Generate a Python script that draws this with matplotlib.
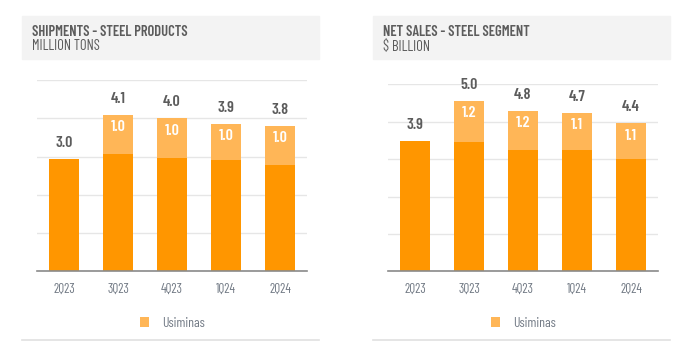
import numpy as np
import matplotlib
matplotlib.use("Agg")
import matplotlib.pyplot as plt
from matplotlib.patches import Rectangle
from matplotlib.lines import Line2D

FONT = ["Barlow Condensed", "DejaVu Sans"]
plt.rcParams["font.family"] = FONT

# data
quarters = ["2Q23", "3Q23", "4Q23", "1Q24", "2Q24"]

ship_base = [2.94, 3.07, 2.97, 2.91, 2.78]
ship_usim = [0.0, 1.02, 1.03, 0.95, 1.02]
ship_total_lbl = ["3.0", "4.1", "4.0", "3.9", "3.8"]
ship_usim_lbl = ["", "1.0", "1.0", "1.0", "1.0"]

sales_base = [3.83, 3.81, 3.57, 3.57, 3.30]
sales_usim = [0.0, 1.21, 1.15, 1.09, 1.06]
sales_total_lbl = ["3.9", "5.0", "4.8", "4.7", "4.4"]
sales_usim_lbl = ["", "1.2", "1.2", "1.1", "1.1"]

ORANGE = "#FF9600"
LIGHT = "#FFB657"
TXT = "#5C5C5C"
TICK = "#727a85"

fig = plt.figure(figsize=(6.81, 3.45), dpi=100)
W, H = 681, 345


def px(x0, y0, w, h):
    return [x0 / W, 1 - (y0 + h) / H, w / W, h / H]


def panel(x_box, ax_left, ax_top, ymax, step, base, usim, tot_lbl, usim_lbl,
          title, subtitle):
    # header box
    fig.patches.append(Rectangle((x_box / W, 1 - 59 / H), 297 / W, 43 / H,
                                 transform=fig.transFigure, color="#F3F3F3",
                                 zorder=0))
    fig.text((x_box + 10) / W, 1 - 32 / H, title, fontsize=10.5,
             fontweight="semibold", color=TXT, va="center")
    fig.text((x_box + 10) / W, 1 - 46.5 / H, subtitle, fontsize=10.5,
             color=TXT, va="center")
    # bottom rule
    fig.lines.append(Line2D([x_box / W, (x_box + 297) / W],
                            [1 - 340 / H, 1 - 340 / H],
                            transform=fig.transFigure, color="#E0E0E0",
                            lw=1.2))

    ax = fig.add_axes(px(ax_left, ax_top, 270, 271.3 - ax_top))
    x = np.arange(len(quarters))
    ax.bar(x, base, width=0.574, color=ORANGE, zorder=2)
    ax.bar(x, usim, bottom=base, width=0.574, color=LIGHT, zorder=2,
           label="Usiminas")
    ax.set_xlim(-0.5, len(quarters) - 0.5)
    ax.set_ylim(0, ymax)
    ax.set_yticks(np.arange(0, ymax + step / 2, step))
    ax.yaxis.grid(True, color="#E6E6E6", lw=1.0, zorder=0)
    ax.set_axisbelow(True)
    ax.tick_params(axis="y", left=False, labelleft=False)
    ax.tick_params(axis="x", length=0, pad=8, labelsize=9.5, colors=TICK)
    ax.set_xticks(x)
    ax.set_xticklabels(quarters)
    for s in ["top", "left", "right"]:
        ax.spines[s].set_visible(False)
    ax.spines["bottom"].set_color("#8A8A8A")
    ax.spines["bottom"].set_linewidth(1.2)

    for i in range(len(quarters)):
        top = base[i] + usim[i]
        ax.annotate(tot_lbl[i], (x[i], top), xytext=(0, 11.5),
                    textcoords="offset points", ha="center", va="center",
                    fontsize=11.5, fontweight="semibold", color=TXT)
        if usim_lbl[i]:
            ax.annotate(usim_lbl[i], (x[i], top), xytext=(0, -9),
                        textcoords="offset points", ha="center", va="center",
                        fontsize=11.5, fontweight="semibold", color="white")

    ax.legend(loc="center", bbox_to_anchor=(0.5, (271.3 - 323.3) / (271.3 - ax_top)),
              frameon=False, fontsize=10, handlelength=0.7, handleheight=0.7,
              handletextpad=0.9, labelcolor=TICK)
    return ax


panel(22, 37, 80, 5.0, 1.0, ship_base, ship_usim, ship_total_lbl,
      ship_usim_lbl, "SHIPMENTS - STEEL PRODUCTS", "MILLION TONS")
panel(373, 388, 84.3, 5.5, 1.1, sales_base, sales_usim, sales_total_lbl,
      sales_usim_lbl, "NET SALES - STEEL SEGMENT", "$ BILLION")

fig.savefig("out.png", dpi=100)
